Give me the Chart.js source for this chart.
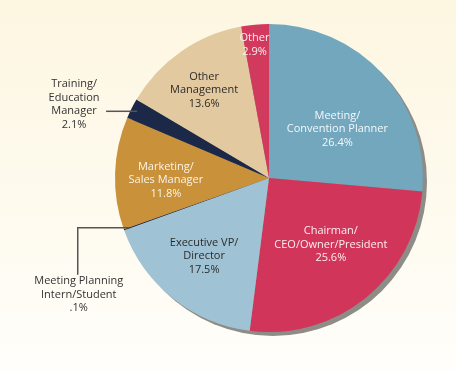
<!DOCTYPE html>
<html>
<head>
<meta charset="utf-8">
<script src="https://cdn.jsdelivr.net/npm/chart.js@4/dist/chart.umd.min.js"></script>
<style>
  html, body { margin: 0; padding: 0; }
  body {
    width: 456px;
    height: 370px;
    background: linear-gradient(to bottom, #fdf6e1 0%, #fefaee 55%, #fffefa 100%);
    overflow: hidden;
  }
  #pie { display: block; }
</style>
</head>
<body>
<canvas id="pie" width="456" height="370"></canvas>
<script>
// ============================================================
// 数据
// ============================================================

const categories = [
  'Meeting/Convention Planner',
  'Chairman/CEO/Owner/President',
  'Executive VP/Director',
  'Meeting Planning Intern/Student',
  'Marketing/Sales Manager',
  'Training/Education Manager',
  'Other Management',
  'Other'
];
const shares = [26.4, 25.6, 17.5, 0.1, 11.8, 2.1, 13.6, 2.9];
const labelLines = [
  ['Meeting/', 'Convention Planner'],
  ['Chairman/', 'CEO/Owner/President'],
  ['Executive VP/', 'Director'],
  ['Meeting Planning', 'Intern/Student'],
  ['Marketing/', 'Sales Manager'],
  ['Training/', 'Education', 'Manager'],
  ['Other', 'Management'],
  ['Other']
];

// ============================================================
// 样式
// ============================================================

const sliceColors = ['#72a7be', '#d2355a', '#9fc3d4', '#1b2847', '#c8913a', '#1b2847', '#e3c99f', '#d23a5d'];
const textColors = ['#f4f8fa', '#fbeef1', '#2b2b2b', '#333333', '#fbf3e6', '#333333', '#2b2b2b', '#fbeef1'];
// inside labels: fraction of radius, angle nudge (deg); null = callout
const labelRadius = [0.545, 0.59, 0.66, null, 0.67, null, 0.71, 0.87];
const labelTurn = [7, -4, 1, 0, -3, 0, -1.5, -1];
const FONT = '11px "Open Sans", sans-serif';
const LINE_H = 13.5;

function pct(v) {
  return (v < 1 ? String(v).replace(/^0/, '') : v.toFixed(1)) + '%';
}

function shade(hex, f) {
  const n = parseInt(hex.slice(1), 16);
  const ch = [(n >> 16) & 255, (n >> 8) & 255, n & 255].map(c => Math.round(c * f));
  return `rgb(${ch[0]}, ${ch[1]}, ${ch[2]})`;
}

function sliceFill(context) {
  const base = sliceColors[context.dataIndex];
  const el = context.element;
  if (!el || !el.outerRadius) return base;
  const g = context.chart.ctx.createRadialGradient(el.x, el.y, 0, el.x, el.y, el.outerRadius);
  g.addColorStop(0, base);
  g.addColorStop(0.9, base);
  g.addColorStop(1, shade(base, 0.9));
  return g;
}

// ============================================================
// 插件
// ============================================================

const shadowPlugin = {
  id: 'pieShadow',
  beforeDatasetsDraw(chart) {
    const arc = chart.getDatasetMeta(0).data[0];
    const ctx = chart.ctx;
    ctx.save();
    ctx.fillStyle = '#8d8c86';
    ctx.beginPath();
    ctx.arc(arc.x + 4, arc.y + 4, arc.outerRadius, 0, Math.PI * 2);
    ctx.fill();
    ctx.restore();
  }
};

function drawLines(ctx, lines, cx, cy, color) {
  ctx.fillStyle = color;
  const top = cy - (lines.length - 1) * LINE_H / 2;
  lines.forEach((t, i) => ctx.fillText(t, cx, top + i * LINE_H));
}

const labelPlugin = {
  id: 'sliceLabels',
  afterDatasetsDraw(chart) {
    const ctx = chart.ctx;
    const arcs = chart.getDatasetMeta(0).data;
    ctx.save();
    ctx.font = FONT;
    ctx.textAlign = 'center';
    ctx.textBaseline = 'middle';
    arcs.forEach((arc, i) => {
      const lines = labelLines[i].concat([pct(shares[i])]);
      const mid = (arc.startAngle + arc.endAngle) / 2;
      if (labelRadius[i] !== null) {
        const a = mid + labelTurn[i] * Math.PI / 180;
        const r = arc.outerRadius * labelRadius[i];
        drawLines(ctx, lines, arc.x + r * Math.cos(a), arc.y + r * Math.sin(a), textColors[i]);
        return;
      }
      // callouts
      const ex = arc.x + arc.outerRadius * 0.96 * Math.cos(mid);
      const ey = arc.y + arc.outerRadius * 0.96 * Math.sin(mid);
      ctx.strokeStyle = '#555555';
      ctx.lineWidth = 1.5;
      ctx.beginPath();
      if (i === 5) {
        ctx.moveTo(ex, ey);
        ctx.lineTo(ex - 31, ey);
        ctx.stroke();
        drawLines(ctx, lines, ex - 63, ey - 7, textColors[i]);
      } else {
        ctx.moveTo(ex, ey);
        ctx.lineTo(ex - 52, ey);
        ctx.lineTo(ex - 52, ey + 47);
        ctx.stroke();
        drawLines(ctx, lines, ex - 51, ey + 67, textColors[i]);
      }
    });
    ctx.restore();
  }
};

// ============================================================
// 图表
// ============================================================

new Chart(document.getElementById('pie').getContext('2d'), {
  type: 'pie',
  data: {
    labels: categories,
    datasets: [{
      data: shares,
      backgroundColor: sliceFill,
      borderWidth: 0
    }]
  },
  options: {
    responsive: false,
    animation: false,
    layout: { padding: { left: 115, right: 33, top: 24, bottom: 38 } },
    plugins: {
      legend: { display: false },
      tooltip: { enabled: false }
    }
  },
  plugins: [shadowPlugin, labelPlugin]
});
</script>
</body>
</html>
